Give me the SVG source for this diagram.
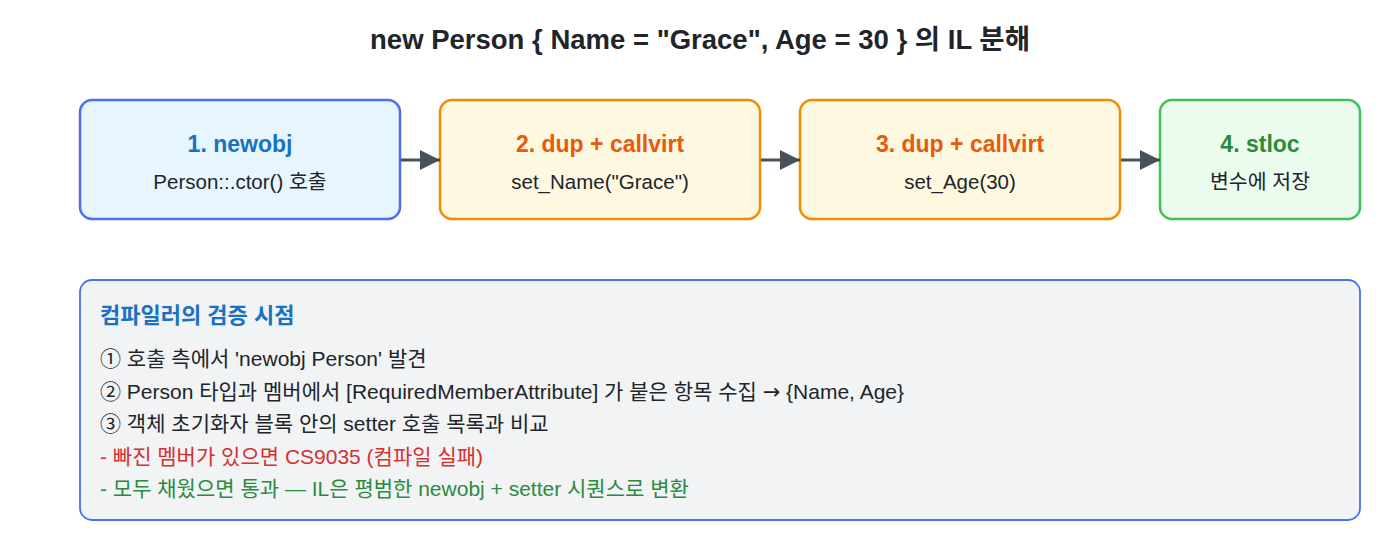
<svg xmlns="http://www.w3.org/2000/svg" width="1400" height="560" viewBox="0 0 1400 560">
<defs>
<marker id="arr" viewBox="0 0 20 20" refX="20" refY="10" markerWidth="20" markerHeight="20" markerUnits="userSpaceOnUse" orient="auto"><path d="M0,0 L20,10 L0,20 z" fill="#495057"/></marker>
<style>
text{font-family:"Liberation Sans","Noto Sans CJK KR",sans-serif;}
.title{font-size:27.5px;font-weight:bold;fill:#212529;text-anchor:middle;}
.h{font-size:23px;font-weight:bold;text-anchor:middle;}
.s{font-size:20.5px;fill:#212529;text-anchor:middle;}
.p{font-size:21px;fill:#212529;}
.conn{stroke:#495057;stroke-width:3;fill:none;}
</style>
</defs>
<rect width="1400" height="560" fill="#ffffff"/>
<text class="title" x="700" y="49">new Person { Name = "Grace", Age = 30 } 의 IL 분해</text>
<g id="n1">
<rect x="80" y="100" width="320" height="119" rx="12" fill="#e7f5ff" stroke="#4c6ef5" stroke-width="2.5"/>
<text class="h" x="240" y="152" fill="#1971c2">1. newobj</text>
<text class="s" x="240" y="189">Person::.ctor() 호출</text>
</g>
<g id="n2">
<rect x="440" y="100" width="320" height="119" rx="12" fill="#fff8e1" stroke="#f08c00" stroke-width="2.5"/>
<text class="h" x="600" y="152" fill="#e8590c">2. dup + callvirt</text>
<text class="s" x="600" y="189">set_Name("Grace")</text>
</g>
<g id="n3">
<rect x="800" y="100" width="320" height="119" rx="12" fill="#fff8e1" stroke="#f08c00" stroke-width="2.5"/>
<text class="h" x="960" y="152" fill="#e8590c">3. dup + callvirt</text>
<text class="s" x="960" y="189">set_Age(30)</text>
</g>
<g id="n4">
<rect x="1160" y="100" width="200" height="119" rx="12" fill="#ebfbee" stroke="#40c057" stroke-width="2.5"/>
<text class="h" x="1260" y="152" fill="#2b8a3e">4. stloc</text>
<text class="s" x="1260" y="189">변수에 저장</text>
</g>
<g id="connectors">
<line class="conn" x1="401" y1="160" x2="440" y2="160" marker-end="url(#arr)"/>
<line class="conn" x1="761" y1="160" x2="800" y2="160" marker-end="url(#arr)"/>
<line class="conn" x1="1121" y1="160" x2="1160" y2="160" marker-end="url(#arr)"/>
</g>
<g id="panel">
<rect x="80" y="280" width="1280" height="240" rx="12" fill="#f1f3f5" stroke="#4c6ef5" stroke-width="1.8"/>
<text x="100" y="323" font-size="22" font-weight="bold" fill="#1971c2">컴파일러의 검증 시점</text>
<text class="p" x="100" y="366">① 호출 측에서 'newobj Person' 발견</text>
<text class="p" x="100" y="399">② Person 타입과 멤버에서 [RequiredMemberAttribute] 가 붙은 항목 수집 <tspan font-family="DejaVu Sans, sans-serif">→</tspan> {Name, Age}</text>
<text class="p" x="100" y="431">③ 객체 초기화자 블록 안의 setter 호출 목록과 비교</text>
<text class="p" x="100" y="464" style="fill:#d63031">- 빠진 멤버가 있으면 CS9035 (컴파일 실패)</text>
<text class="p" x="100" y="496" style="fill:#2b8a3e">- 모두 채웠으면 통과 — IL은 평범한 newobj + setter 시퀀스로 변환</text>
</g>
</svg>
